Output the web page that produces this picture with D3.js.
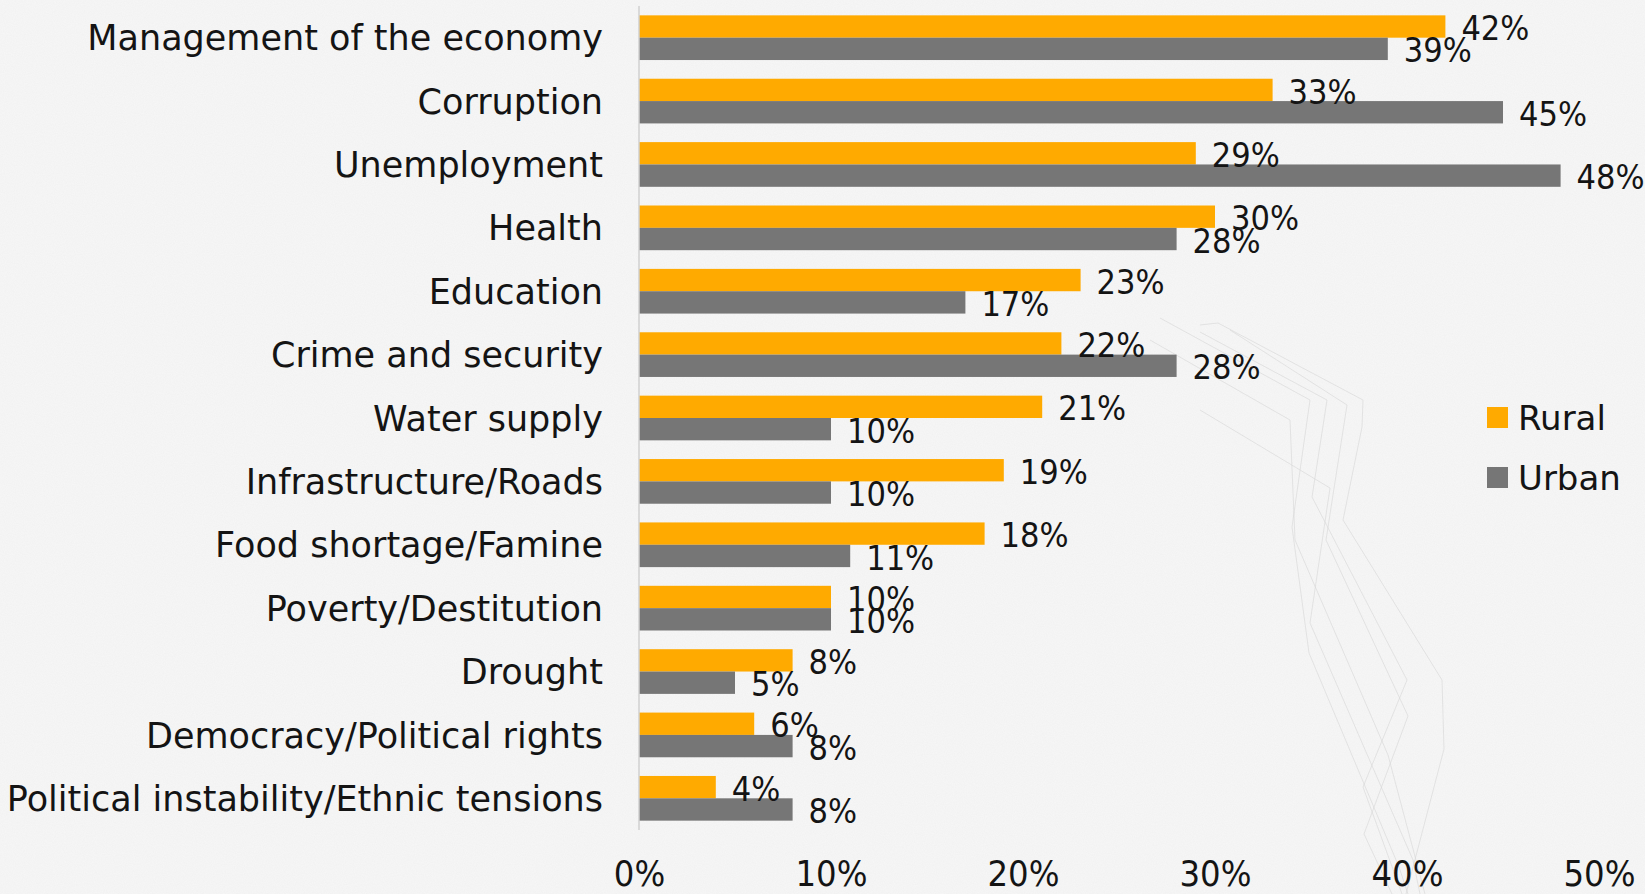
<!DOCTYPE html>
<html>
<head>
<meta charset="utf-8">
<script src="https://cdn.jsdelivr.net/npm/d3@7"></script>
<style>
  html, body { margin: 0; padding: 0; background: #f5f5f5; }
  svg { display: block; }
  .cat { font-family: "DejaVu Sans", "Noto Sans", sans-serif; fill: #141414; }
  .num { font-family: "Liberation Sans Narrow", "DejaVu Sans Condensed", "DejaVu Sans", sans-serif; font-stretch: condensed; fill: #141414; }
</style>
</head>
<body>
<svg id="chart" width="1645" height="894"></svg>
<script>
// Most important problems facing the country, rural vs urban respondents (%)
const categories = [
  "Management of the economy",
  "Corruption",
  "Unemployment",
  "Health",
  "Education",
  "Crime and security",
  "Water supply",
  "Infrastructure/Roads",
  "Food shortage/Famine",
  "Poverty/Destitution",
  "Drought",
  "Democracy/Political rights",
  "Political instability/Ethnic tensions"
];
const series = ["Rural", "Urban"];
const rural = [42, 33, 29, 30, 23, 22, 21, 19, 18, 10, 8, 6, 4];
const urban = [39, 45, 48, 28, 17, 28, 10, 10, 11, 10, 5, 8, 8];
const xTicks = [0, 10, 20, 30, 40, 50];
const colors = { Rural: "#ffaa00", Urban: "#767676" };

const svg = d3.select("#chart");
const W = 1645, H = 894;

// paper-like background with a faint grain
const defs = svg.append("defs");
const grain = defs.append("filter").attr("id", "grain").attr("x", 0).attr("y", 0).attr("width", "100%").attr("height", "100%");
grain.append("feTurbulence").attr("type", "fractalNoise").attr("baseFrequency", 0.9).attr("numOctaves", 2).attr("seed", 3).attr("result", "n");
grain.append("feColorMatrix").attr("type", "matrix")
  .attr("values", "0 0 0 0 0  0 0 0 0 0  0 0 0 0 0  0 0 0 0.025 0");
svg.append("rect").attr("width", W).attr("height", H).attr("fill", "#f7f7f7");
svg.append("rect").attr("width", W).attr("height", H).attr("filter", "url(#grain)");

// faint decorative strokes behind the plot
const deco = [
  [[1200,325],[1218,323],[1363,400],[1362,427],[1343,520],[1442,680],[1444,749],[1406,894]],
  [[1200,332],[1327,400],[1312,497],[1407,680],[1363,787],[1402,894]],
  [[1200,410],[1330,488],[1310,623],[1413,860],[1420,894]],
  [[1160,318],[1310,400],[1292,527],[1309,653],[1399,867],[1408,894]],
  [[1230,330],[1347,405],[1326,540],[1408,716],[1364,834],[1392,894]],
  [[1150,340],[1290,420],[1295,540],[1388,755],[1425,894]]
];
svg.append("g").selectAll("path").data(deco).join("path")
  .attr("d", d3.line())
  .attr("fill", "none")
  .attr("stroke", "#d6d6d6")
  .attr("stroke-width", 1)
  .attr("opacity", 0.6);

// scales
const x = d3.scaleLinear().domain([0, 50]).range([639, 1599]);
const y = d3.scaleBand().domain(categories).range([6, 830]).paddingInner(0.295).paddingOuter(0.1475);
const ySub = d3.scaleBand().domain(series).range([0, y.bandwidth()]);

const rows = categories.map((c, i) => ({ cat: c, Rural: rural[i], Urban: urban[i] }));

// bars
const groups = svg.append("g").selectAll("g").data(rows).join("g")
  .attr("transform", d => `translate(0,${y(d.cat)})`);

groups.selectAll("rect").data(d => series.map(s => ({ s, v: d[s] }))).join("rect")
  .attr("x", x(0))
  .attr("y", d => ySub(d.s))
  .attr("width", d => x(d.v) - x(0))
  .attr("height", ySub.bandwidth())
  .attr("fill", d => colors[d.s]);

// value labels
groups.selectAll("text").data(d => series.map(s => ({ s, v: d[s] }))).join("text")
  .attr("class", "num")
  .attr("x", d => x(d.v) + 16)
  .attr("y", d => ySub(d.s) + ySub.bandwidth() / 2)
  .attr("dy", "0.4em")
  .attr("font-size", 34)
  .text(d => d.v + "%");

// vertical category axis line
svg.append("line")
  .attr("x1", x(0)).attr("x2", x(0))
  .attr("y1", 6).attr("y2", 830)
  .attr("stroke", "#d0d0d0").attr("stroke-width", 1.5);

// category labels via d3 axis
const yAxis = svg.append("g")
  .attr("transform", `translate(${x(0) - 36},0)`)
  .call(d3.axisLeft(y).tickSize(0).tickPadding(0));
yAxis.select(".domain").remove();
yAxis.selectAll("text")
  .attr("class", "cat")
  .attr("fill", null)
  .attr("font-size", 35)
  .attr("font-family", null)
  .attr("dy", "0.36em");

// x axis tick labels
const xAxis = svg.append("g")
  .attr("transform", "translate(0,860)")
  .call(d3.axisBottom(x).tickValues(xTicks).tickSize(0).tickPadding(0).tickFormat(d => d + "%"));
xAxis.select(".domain").remove();
xAxis.selectAll("text")
  .attr("class", "num")
  .attr("fill", null)
  .attr("font-family", null)
  .attr("font-size", 36)
  .attr("dy", "0.71em");

// legend
const legend = svg.append("g").selectAll("g").data(series).join("g")
  .attr("transform", (d, i) => `translate(1487,${407 + i * 60})`);
legend.append("rect").attr("width", 21).attr("height", 21).attr("fill", d => colors[d]);
legend.append("text")
  .attr("class", "cat")
  .attr("x", 31)
  .attr("y", 10.5)
  .attr("dy", "0.36em")
  .attr("font-size", 34)
  .text(d => d);
</script>
</body>
</html>
